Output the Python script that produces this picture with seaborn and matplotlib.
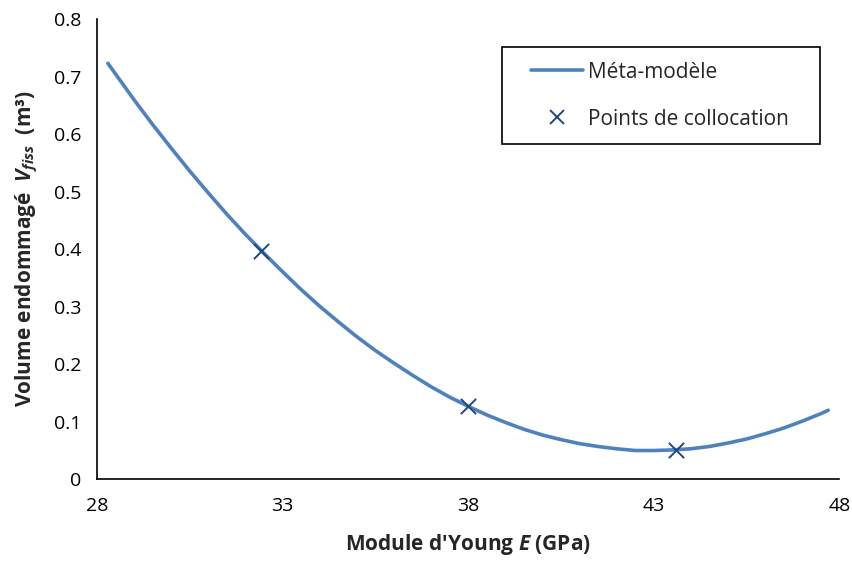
import matplotlib
matplotlib.use("Agg")
import matplotlib.pyplot as plt
import seaborn as sns
import pandas as pd
from matplotlib.lines import Line2D
from matplotlib.legend_handler import HandlerLine2D

# Curve (méta-modèle)
curve_x = [28.3, 28.5, 29.0, 29.5, 30.0, 30.5, 31.0, 31.5, 32.0, 32.5, 33.0, 33.5,
           34.0, 34.5, 35.0, 35.5, 36.0, 36.5, 37.0, 37.5, 38.0, 38.5, 39.0, 39.5,
           40.0, 40.5, 41.0, 41.5, 42.0, 42.5, 43.0, 43.5, 44.0, 44.5, 45.0, 45.5,
           46.0, 46.5, 47.0, 47.5, 47.7]
curve_y = [0.723, 0.705, 0.660, 0.617, 0.576, 0.536, 0.498, 0.461, 0.426, 0.393, 0.361, 0.330,
           0.301, 0.274, 0.248, 0.224, 0.202, 0.181, 0.161, 0.143, 0.127, 0.112, 0.099, 0.087,
           0.077, 0.069, 0.062, 0.057, 0.053, 0.050, 0.050, 0.051, 0.053, 0.057, 0.063, 0.070,
           0.079, 0.089, 0.101, 0.114, 0.120]

# Collocation points
pts_x = [32.43, 38.0, 43.6]
pts_y = [0.397, 0.127, 0.051]

x_ticks = [28, 33, 38, 43, 48]
y_ticks = [0, 0.1, 0.2, 0.3, 0.4, 0.5, 0.6, 0.7, 0.8]
y_tick_labels = ["0", "0.1", "0.2", "0.3", "0.4", "0.5", "0.6", "0.7", "0.8"]

sns.set_style("white")
plt.rcParams['font.family'] = ['Open Sans', 'DejaVu Sans']
plt.rcParams['mathtext.fontset'] = 'custom'
plt.rcParams['mathtext.it'] = 'Open Sans:italic:bold'
plt.rcParams['mathtext.rm'] = 'Open Sans:bold'
plt.rcParams['mathtext.bf'] = 'Open Sans:bold'

line_col = "#4F81BD"
mark_col = "#1F497D"
fs = 14
leg_fs = 15

fig = plt.figure(figsize=(8.53, 5.63), dpi=100)
ax = fig.add_axes([0.1134, 0.1487, 0.8706, 0.8176])

df_c = pd.DataFrame({"E": curve_x, "V": curve_y})
df_p = pd.DataFrame({"E": pts_x, "V": pts_y})

sns.lineplot(data=df_c, x="E", y="V", ax=ax, color=line_col, linewidth=2.6, sort=False)
sns.scatterplot(data=df_p, x="E", y="V", ax=ax, marker="x", color=mark_col, s=120,
                linewidth=1.4, zorder=5)

ax.set_xlim(28, 48)
ax.set_ylim(0, 0.8)
ax.set_xticks(x_ticks)
ax.set_xticklabels([str(t) for t in x_ticks])
ax.set_yticks(y_ticks)
ax.set_yticklabels(y_tick_labels)
ax.tick_params(axis='both', direction='inout', length=10, width=1.2, color='black',
               labelsize=fs, labelcolor='black')
ax.tick_params(axis='x', pad=8)
ax.tick_params(axis='y', pad=6)
for s in ['top', 'right']:
    ax.spines[s].set_visible(False)
for s in ['left', 'bottom']:
    ax.spines[s].set_color('black')
    ax.spines[s].set_linewidth(1.2)
ax.grid(False)

ax.set_xlabel("Module d'Young $E$ (GPa)", fontsize=15, fontweight='bold', labelpad=12)
ax.set_ylabel("Volume endommagé  $V_{fiss}$  (m³)", fontsize=15, fontweight='bold', labelpad=10)

h1 = Line2D([0], [0], color=line_col, linewidth=2.6)
h2 = Line2D([0], [0], color=mark_col, marker='x', linestyle='None', markersize=10,
            markeredgewidth=1.4)
leg = ax.legend([h1, h2], ["Méta-modèle", "Points de collocation"],
                loc='upper left', bbox_to_anchor=(0.546, 0.0, 0.428, 0.939), mode='expand',
                fontsize=leg_fs, frameon=True, fancybox=False, edgecolor='black', framealpha=1,
                borderpad=0.7, labelspacing=1.25, handlelength=3.2, handletextpad=0.2,
                borderaxespad=0,
                handler_map={h1: HandlerLine2D(xpad=0.7), h2: HandlerLine2D(xpad=0.7)})
leg.get_frame().set_linewidth(1.2)

fig.savefig("out.png", dpi=100)
